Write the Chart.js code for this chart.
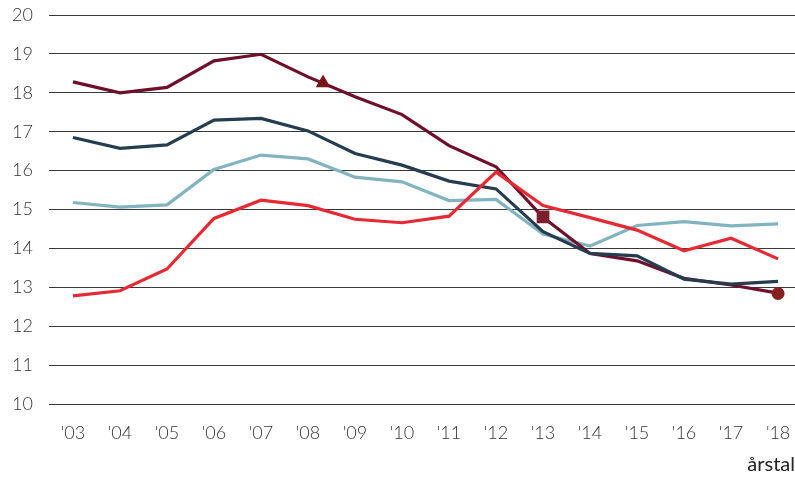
<!DOCTYPE html>
<html>
<head>
<meta charset="UTF-8" />
<title>årstal</title>
<script src="https://cdn.jsdelivr.net/npm/chart.js"></script>
<style>
  html, body { margin: 0; padding: 0; background: #fff; }
  #chart { display: block; }
</style>
</head>
<body>
<canvas id="chart" width="795" height="477"></canvas>
<script>
// --- data ---
const years = [2003, 2004, 2005, 2006, 2007, 2008, 2009, 2010, 2011, 2012, 2013, 2014, 2015, 2016, 2017, 2018];
const tickLabels = ["'03", "'04", "'05", "'06", "'07", "'08", "'09", "'10", "'11", "'12", "'13", "'14", "'15", "'16", "'17", "'18"];

const maroonValues = [18.28, 18.00, 18.14, 18.82, 18.99, 18.41, 17.90, 17.44, 16.64, 16.10, 14.80, 13.87, 13.68, 13.23, 13.06, 12.85];
const navyValues   = [16.85, 16.57, 16.66, 17.30, 17.34, 17.02, 16.44, 16.14, 15.73, 15.53, 14.43, 13.87, 13.81, 13.21, 13.08, 13.15];
const tealValues   = [15.18, 15.06, 15.12, 16.03, 16.40, 16.30, 15.83, 15.71, 15.23, 15.26, 14.37, 14.06, 14.59, 14.69, 14.58, 14.63];
const redValues    = [12.78, 12.91, 13.47, 14.77, 15.24, 15.10, 14.75, 14.66, 14.83, 15.96, 15.10, 14.79, 14.47, 13.94, 14.26, 13.73];

// single markers on the maroon line
const triangleMark = { x: 2008.32, y: 18.25 };
const squareMark   = { x: 2013, y: 14.81 };
const circleMark   = { x: 2018, y: 12.84 };

const toPoints = vals => vals.map((v, i) => ({ x: years[i], y: v }));

function lineSet(vals, color) {
  return {
    data: toPoints(vals),
    borderColor: color,
    borderWidth: 3.2,
    pointRadius: 0,
    tension: 0,
    fill: false
  };
}

function markSet(pt, style, radius, color) {
  return {
    data: [pt],
    showLine: false,
    pointStyle: style,
    pointRadius: radius,
    pointBackgroundColor: color,
    pointBorderColor: color,
    pointBorderWidth: 0
  };
}

const font = { family: 'Lato, "Open Sans", sans-serif', size: 18, weight: '300' };

new Chart(document.getElementById('chart'), {
  type: 'line',
  data: {
    datasets: [
      markSet(triangleMark, 'triangle', 8.5, '#7a1616'),
      markSet(squareMark, 'rect', 9, '#7b1f2d'),
      markSet(circleMark, 'circle', 6.5, '#85201f'),
      lineSet(redValues, '#e52a33'),
      lineSet(navyValues, '#263c4f'),
      lineSet(maroonValues, '#6e0f2b'),
      lineSet(tealValues, '#82b4c0')
    ]
  },
  options: {
    responsive: false,
    animation: false,
    layout: { autoPadding: false, padding: { left: 12, top: 15, right: 0, bottom: 0 } },
    plugins: { legend: { display: false }, tooltip: { enabled: false } },
    scales: {
      x: {
        type: 'linear',
        min: 2002.49,
        max: 2018.36,
        afterBuildTicks: axis => { axis.ticks = years.map(v => ({ value: v })); },
        afterFit: axis => {
          axis.height = 73;
          axis.paddingLeft = 0;
          axis.paddingRight = 0;
        },
        ticks: {
          autoSkip: false,
          maxRotation: 0,
          padding: 10,
          color: '#333',
          font: font,
          callback: (v, i) => tickLabels[i]
        },
        grid: { display: false },
        border: { display: false },
        title: {
          display: true,
          text: 'årstal',
          align: 'end',
          color: '#222',
          font: { family: 'Lato, "Open Sans", sans-serif', size: 20, weight: '400' },
          padding: { top: 10, bottom: 0 }
        }
      },
      y: {
        min: 10,
        max: 20,
        afterFit: axis => { axis.width = 37; },
        ticks: { stepSize: 1, padding: 0, crossAlign: 'far', color: '#333', font: font },
        grid: { color: '#383838', lineWidth: 1, drawTicks: false },
        border: { display: false }
      }
    }
  }
});
</script>
</body>
</html>
